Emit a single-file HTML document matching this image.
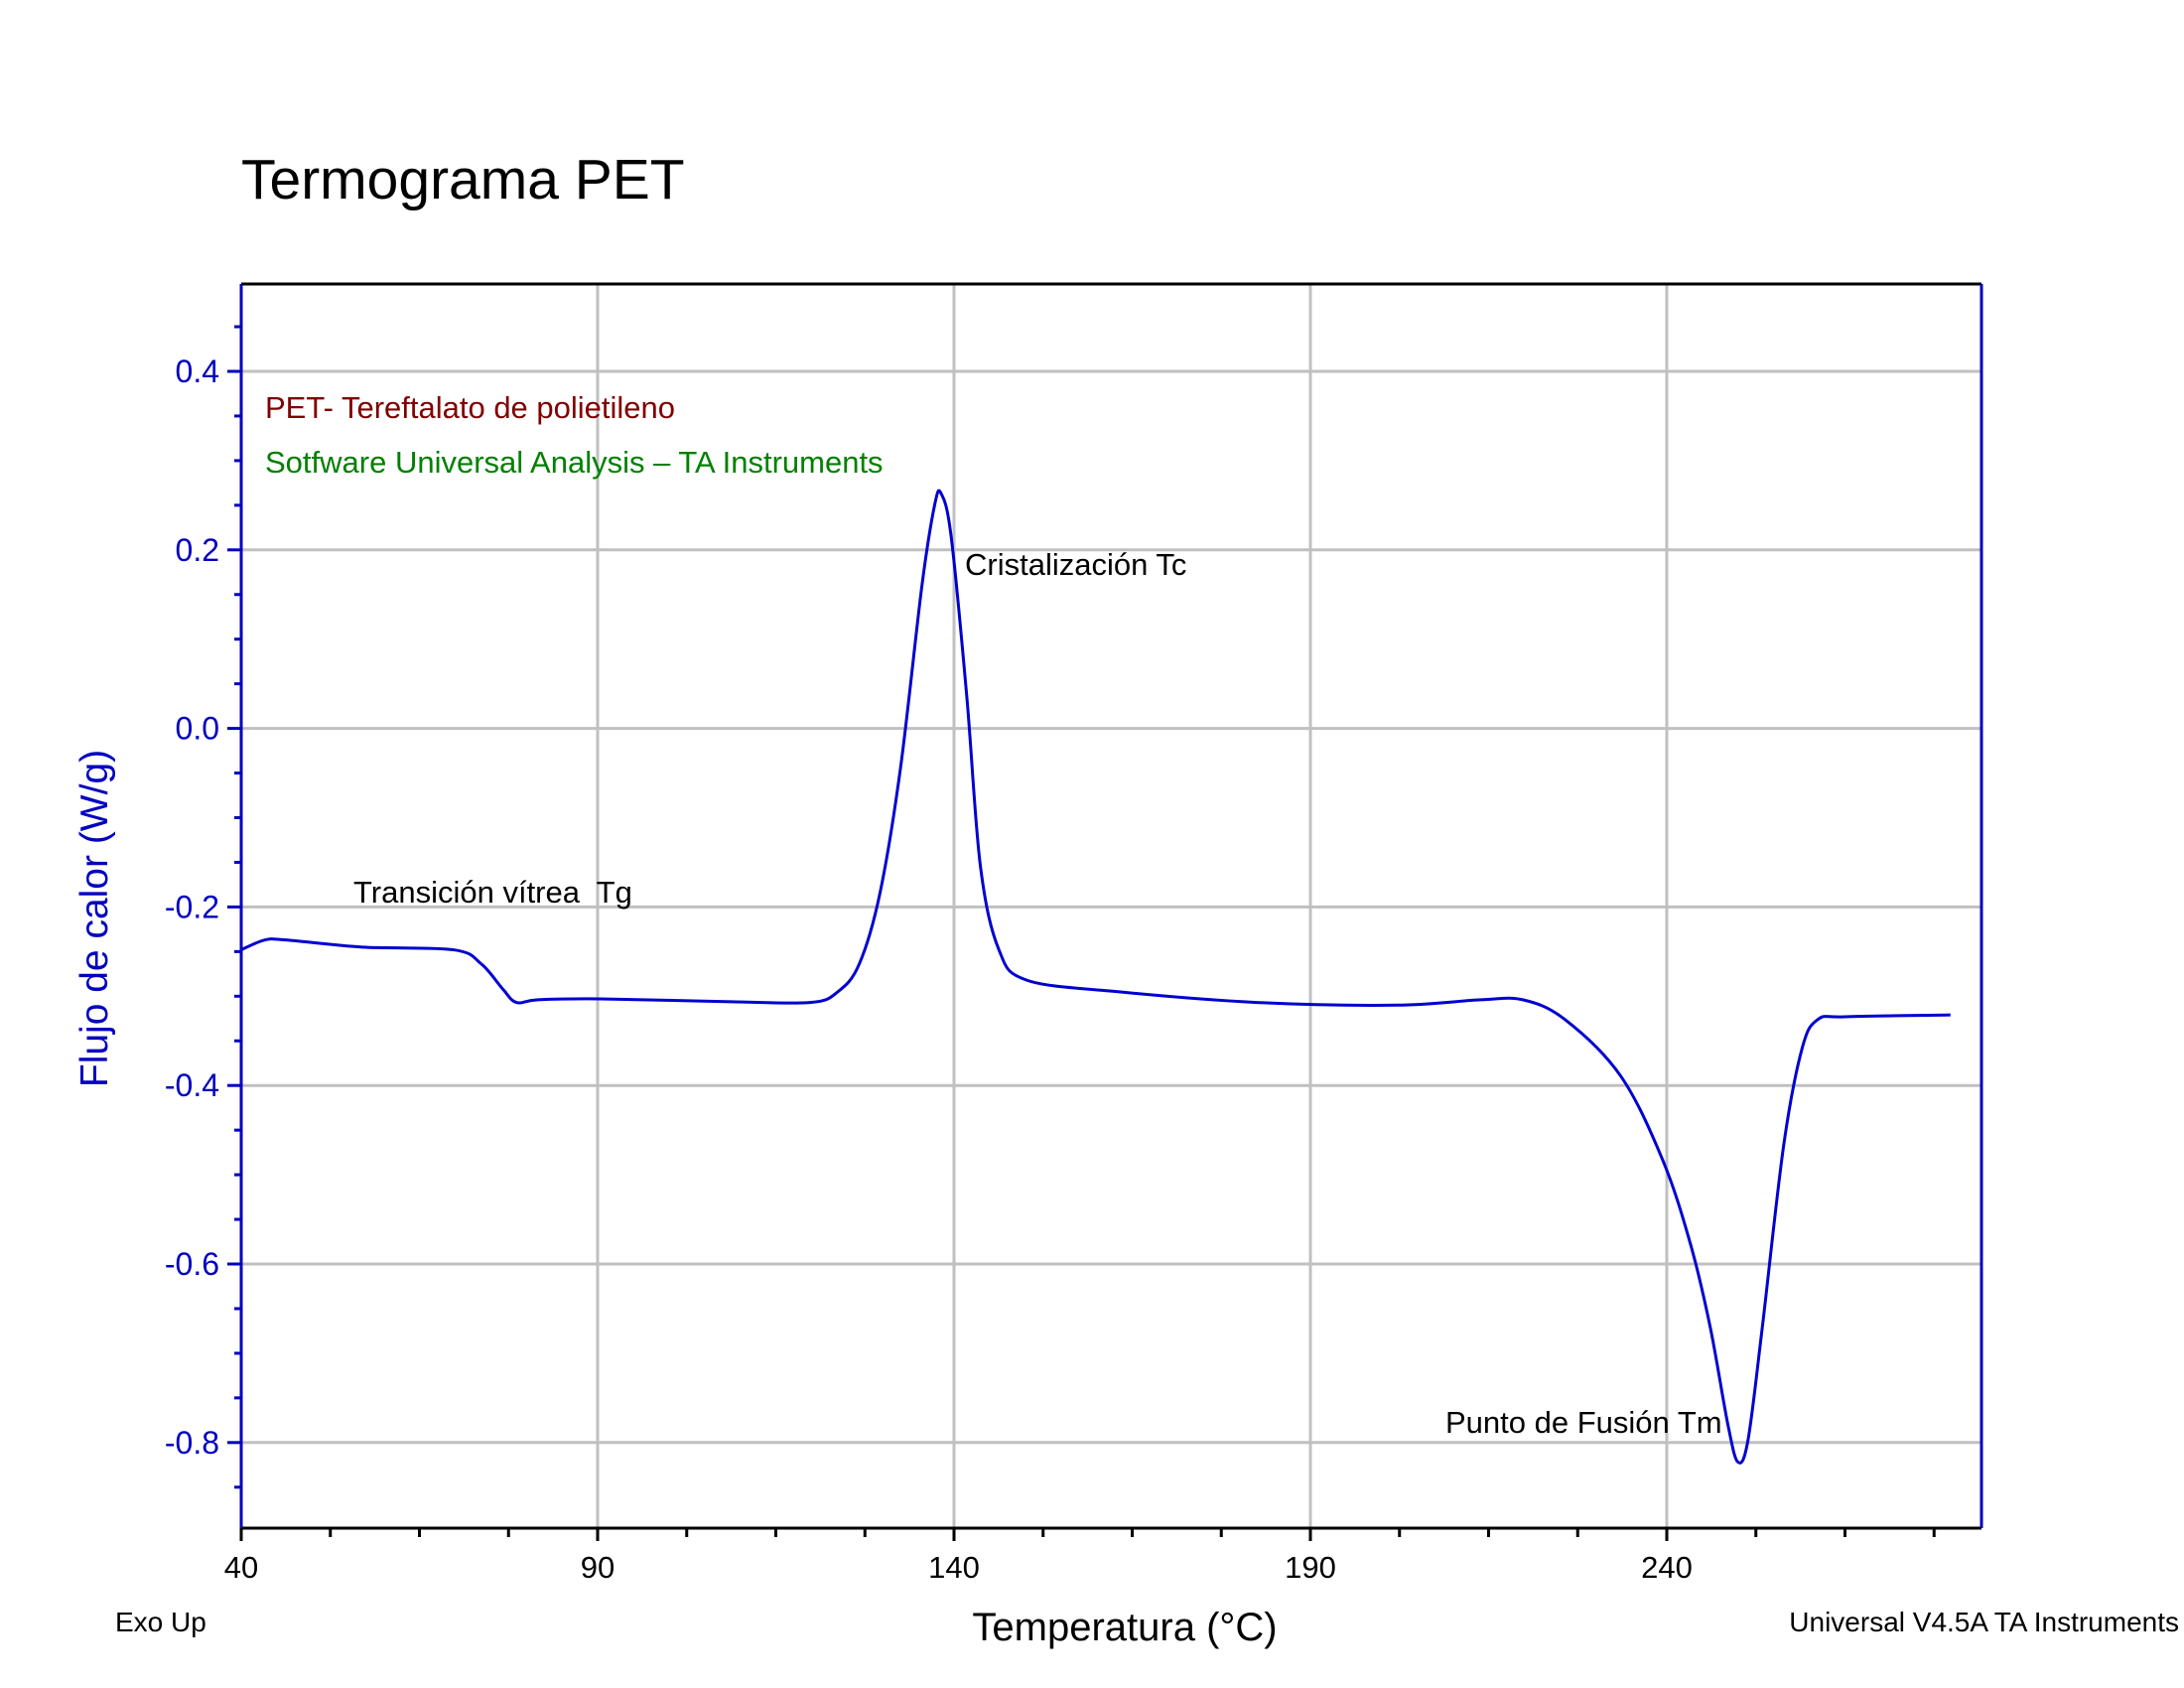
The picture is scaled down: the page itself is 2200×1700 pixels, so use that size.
<!DOCTYPE html>
<html><head><meta charset="utf-8"><style>
html,body{margin:0;padding:0;background:#fff;}
svg{display:block;font-family:"Liberation Sans",sans-serif;}
</style></head><body>
<svg id="chart" width="2200" height="1700" viewBox="0 0 2200 1700" xmlns="http://www.w3.org/2000/svg">
<text x="243" y="200" font-size="57" fill="#000">Termograma PET</text>
<g id="grid"></g>
<g id="ticks"></g>
<g id="series"></g>
<line x1="243" y1="286" x2="1996" y2="286" stroke="#000" stroke-width="3"/>
<line x1="243" y1="1539" x2="1996" y2="1539" stroke="#000" stroke-width="3"/>
<line x1="243" y1="286" x2="243" y2="1539" stroke="#0000c0" stroke-width="3"/>
<line x1="1996" y1="286" x2="1996" y2="1539" stroke="#0000c0" stroke-width="3"/>
<text x="267" y="421" font-size="31" fill="#800000">PET- Tereftalato de polietileno</text>
<text x="267" y="476" font-size="31" fill="#008000">Sotfware Universal Analysis – TA Instruments</text>
<text x="972" y="579" font-size="31" fill="#000">Cristalización Tc</text>
<text x="356" y="909" font-size="31" fill="#000" xml:space="preserve">Transición vítrea  Tg</text>
<text x="1456" y="1443" font-size="31" fill="#000">Punto de Fusión Tm</text>
<text x="1133" y="1652" font-size="40" fill="#000" text-anchor="middle">Temperatura (°C)</text>
<text transform="translate(108,925) rotate(-90)" font-size="39" fill="#0000c0" text-anchor="middle">Flujo de calor (W/g)</text>
<text x="116" y="1643" font-size="28" fill="#000">Exo Up</text>
<text x="2195" y="1643" font-size="28" fill="#000" text-anchor="end">Universal V4.5A TA Instruments</text>
</svg>
<script>
const temps = [40,43.3,46.3,57,69.8,73.7,76.7,78.6,81.6,90.4,108,119.8,123.7,126.7,129.6,132.5,135.5,137.3,138.2,139.6,141.8,143.7,146.3,150.2,163,182.5,202,213.9,219.8,225.7,233.5,239.4,243.3,246.1,248.6,250.0,251.4,253.4,256.4,259.0,261.2,265,279.8];
const heatFlow = [-0.248,-0.237,-0.237,-0.245,-0.248,-0.264,-0.292,-0.307,-0.304,-0.303,-0.306,-0.307,-0.295,-0.264,-0.185,-0.044,0.16,0.251,0.263,0.215,0.035,-0.154,-0.248,-0.282,-0.295,-0.307,-0.31,-0.304,-0.304,-0.326,-0.389,-0.483,-0.577,-0.671,-0.781,-0.822,-0.797,-0.671,-0.467,-0.358,-0.326,-0.323,-0.321];
const xTicks = [40,90,140,190,240];
const yTicks = [0.4,0.2,0.0,-0.2,-0.4,-0.6,-0.8];
const yTickLabels = ["0.4","0.2","0.0","-0.2","-0.4","-0.6","-0.8"];
const NS="http://www.w3.org/2000/svg";
const X0=243,PX=359/50, Y04=374, PY=899;
function sx(t){return X0+(t-40)*PX;}
function sy(v){return Y04+(0.4-v)*PY;}
const grid=document.getElementById('grid'), ticks=document.getElementById('ticks'), series=document.getElementById('series');
function mk(tag,attrs,parent){const e=document.createElementNS(NS,tag);for(const k in attrs)e.setAttribute(k,attrs[k]);parent.appendChild(e);return e;}
xTicks.forEach(t=>{
  if(t>40){const g=mk('line',{x1:sx(t),y1:286,x2:sx(t),y2:1539,stroke:'#c0c0c0','stroke-width':3},grid);
  
  }
  const tk=mk('line',{x1:sx(t),y1:1539,x2:sx(t),y2:1552,stroke:'#000','stroke-width':3},ticks);
  
  
  const lb=mk('text',{x:sx(t),y:1589,'font-size':31,fill:'#000','text-anchor':'middle'},ticks);
  lb.textContent=String(t);
  
  
});
for(let t=52.5;t<284;t+=12.5){
  if(Math.abs((t-40)%50)<0.01)continue;
  const m=mk('line',{x1:sx(t),y1:1539,x2:sx(t),y2:1548,stroke:'#000','stroke-width':3},ticks);
  
  
}
yTicks.forEach((v,i)=>{
  const g=mk('line',{x1:243,y1:sy(v),x2:1996,y2:sy(v),stroke:'#c0c0c0','stroke-width':3},grid);
  
  
  const tk=mk('line',{x1:229,y1:sy(v),x2:243,y2:sy(v),stroke:'#0000c0','stroke-width':3},ticks);
  
  
  const lb=mk('text',{x:221,y:sy(v)+11,'font-size':32,fill:'#0000c0','text-anchor':'end'},ticks);
  lb.textContent=yTickLabels[i];
  
  
});
for(let k=-17;k<=9;k++){
  const v=k*0.05;
  if(k%4===0)continue;
  const m=mk('line',{x1:236,y1:sy(v),x2:243,y2:sy(v),stroke:'#0000c0','stroke-width':3},ticks);
  
  
}
const pts=temps.map((t,i)=>[sx(t),sy(heatFlow[i])]);
let d='M'+pts[0][0]+','+pts[0][1];
for(let i=0;i<pts.length-1;i++){
  const p0=pts[i-1]||pts[i],p1=pts[i],p2=pts[i+1],p3=pts[i+2]||p2;
  const c1=[p1[0]+(p2[0]-p0[0])/6,p1[1]+(p2[1]-p0[1])/6];
  const c2=[p2[0]-(p3[0]-p1[0])/6,p2[1]-(p3[1]-p1[1])/6];
  d+=' C'+c1+' '+c2+' '+p2;
}
const path=mk('path',{d:d,fill:'none',stroke:'#0000d0','stroke-width':3},series);


</script>
</body></html>
